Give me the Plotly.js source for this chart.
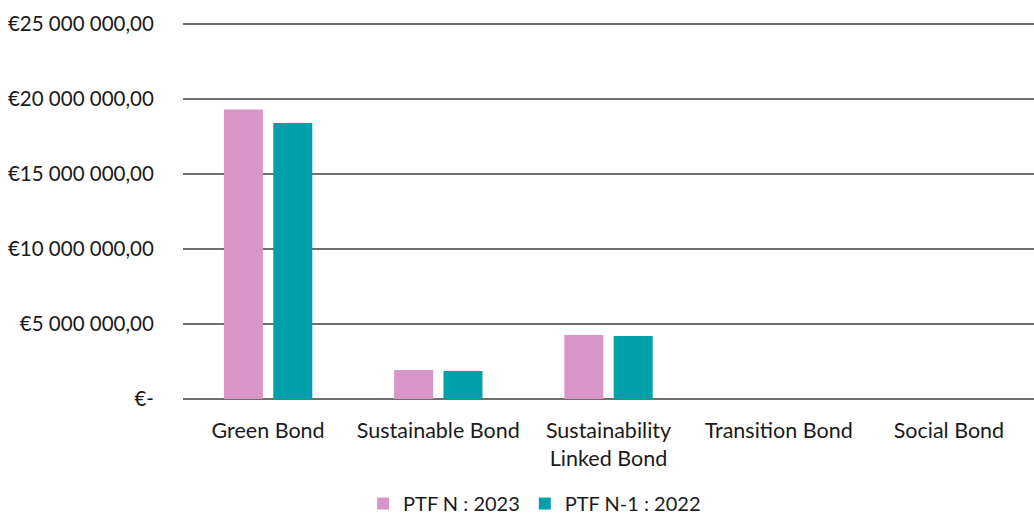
<!DOCTYPE html>
<html><head><meta charset="utf-8">
<script src="https://cdn.plot.ly/plotly-3.0.1.min.js"></script>
<style>html,body{margin:0;padding:0;background:#fff}#c{width:1034px;height:517px}</style>
</head><body><div id="c"></div>
<script>
const categories = ["Green Bond", "Sustainable Bond", "Sustainability<br>Linked Bond", "Transition Bond", "Social Bond"];
const seriesNames = ["PTF N : 2023", "PTF N-1 : 2022"];
const values2023 = [19310000, 1930000, 4270000, 0, 0];
const values2022 = [18420000, 1870000, 4200000, 0, 0];
const yTickVals = [0, 5000000, 10000000, 15000000, 20000000, 25000000];
const yTickText = ["€-", "€5 000 000,00", "€10 000 000,00", "€15 000 000,00", "€20 000 000,00", "€25 000 000,00"];

const font = {family: "Lato, 'Open Sans', sans-serif", size: 20.5, color: "#1a1a1a"};
const xfont = {family: "Lato, 'Open Sans', sans-serif", size: 21.5, color: "#1a1a1a"};
const legfont = {family: "Lato, 'Open Sans', sans-serif", size: 20, color: "#1a1a1a"};
const data = [
  {type: "bar", x: categories, y: values2023, name: seriesNames[0], marker: {color: "#D896C8"}},
  {type: "bar", x: categories, y: values2022, name: seriesNames[1], marker: {color: "#00A0AA"}}
];
const layout = {
  width: 1034, height: 517,
  margin: {l: 183, r: 0, t: 22, b: 118},
  paper_bgcolor: "#fff", plot_bgcolor: "#fff",
  font: font,
  barmode: "group", bargap: 0.42, bargroupgap: 0.21,
  showlegend: true,
  legend: {orientation: "h", xref: "container", yref: "container", x: 0.517, xanchor: "center",
           y: 0.026, yanchor: "middle", font: legfont, traceorder: "normal"},
  xaxis: {type: "category", showgrid: false, zeroline: false, showline: false, automargin: false,
          ticks: "outside", ticklen: 12, tickcolor: "rgba(0,0,0,0)", tickfont: xfont},
  yaxis: {range: [0, 25150000], tickvals: yTickVals, ticktext: yTickText, automargin: false,
          showgrid: true, gridcolor: "#6e6e6e", gridwidth: 2,
          zeroline: true, zerolinecolor: "#6e6e6e", zerolinewidth: 2, showline: false,
          ticks: "outside", ticklen: 24, tickcolor: "rgba(0,0,0,0)", tickfont: font}
};
Plotly.newPlot("c", data, layout, {displayModeBar: false, staticPlot: true});
</script></body></html>
